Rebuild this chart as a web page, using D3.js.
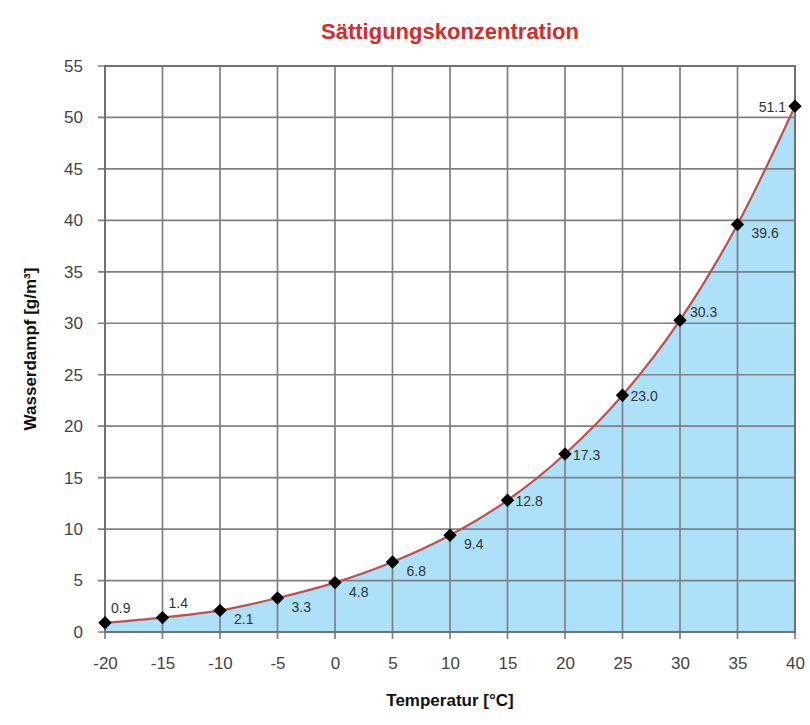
<!DOCTYPE html>
<html>
<head>
<meta charset="utf-8">
<script src="https://cdn.jsdelivr.net/npm/d3@7"></script>
<style>
  body { margin: 0; background: #fff; }
  text { font-family: "Liberation Sans", Arial, sans-serif; }
</style>
</head>
<body>
<svg id="chart" width="810" height="725"></svg>
<script>
// data
var temps = [-20, -15, -10, -5, 0, 5, 10, 15, 20, 25, 30, 35, 40];
var vapour = [0.9, 1.4, 2.1, 3.3, 4.8, 6.8, 9.4, 12.8, 17.3, 23.0, 30.3, 39.6, 51.1];
var xTicks = [-20, -15, -10, -5, 0, 5, 10, 15, 20, 25, 30, 35, 40];
var yTicks = [0, 5, 10, 15, 20, 25, 30, 35, 40, 45, 50, 55];
// where each value label sits relative to its point
var labelSide = ["ar", "ar", "br", "br", "br", "br", "br", "r", "r", "r", "ur", "br", "l"];

var svg = d3.select("#chart");
var m = { left: 105, right: 15, top: 66, bottom: 93 };
var w = 810 - m.left - m.right, h = 725 - m.top - m.bottom;

var x = d3.scaleLinear().domain([-20, 40]).range([0, w]);
var y = d3.scaleLinear().domain([0, 55]).range([h, 0]);

var g = svg.append("g").attr("transform", "translate(" + m.left + "," + m.top + ")");

var pts = temps.map(function (t, i) { return { t: t, v: vapour[i], side: labelSide[i] }; });

// filled area under curve
var area = d3.area()
    .x(function (d) { return x(d.t); })
    .y0(y(0))
    .y1(function (d) { return y(d.v); })
    .curve(d3.curveMonotoneX);
g.append("path").datum(pts).attr("d", area).attr("fill", "#ade0f9");

// grid
g.selectAll(".vg").data(xTicks).enter().append("line")
    .attr("x1", function (d) { return x(d); }).attr("x2", function (d) { return x(d); })
    .attr("y1", 0).attr("y2", h + 7)
    .attr("stroke", "#808080").attr("stroke-width", 1.7);
g.selectAll(".hg").data(yTicks).enter().append("line")
    .attr("y1", function (d) { return y(d); }).attr("y2", function (d) { return y(d); })
    .attr("x1", -7).attr("x2", w)
    .attr("stroke", "#808080").attr("stroke-width", 1.7);
g.append("rect").attr("width", w).attr("height", h)
    .attr("fill", "none").attr("stroke", "#707070").attr("stroke-width", 1.9);

// axes (labels only, grid drawn above)
var fmt = function (d) { return String(d); };
var xAxis = g.append("g").attr("transform", "translate(0," + h + ")")
    .call(d3.axisBottom(x).tickValues(xTicks).tickFormat(fmt).tickSize(0).tickPadding(25));
var yAxis = g.append("g")
    .call(d3.axisLeft(y).tickValues(yTicks).tickFormat(fmt).tickSize(0).tickPadding(22));
[xAxis, yAxis].forEach(function (a) {
    a.select(".domain").remove();
    a.selectAll("text").attr("font-size", 17).attr("fill", "#444")
        .attr("font-family", "Liberation Sans, Arial, sans-serif");
});

// curve
var line = d3.line()
    .x(function (d) { return x(d.t); })
    .y(function (d) { return y(d.v); })
    .curve(d3.curveMonotoneX);
g.append("path").datum(pts).attr("d", line)
    .attr("fill", "none").attr("stroke", "#c0504d").attr("stroke-width", 2.2);

// markers (square diamonds)
g.selectAll(".mk").data(pts).enter().append("path")
    .attr("transform", function (d) { return "translate(" + x(d.t) + "," + y(d.v) + ") rotate(45)"; })
    .attr("d", d3.symbol().type(d3.symbolSquare).size(90))
    .attr("fill", "#000");

// value labels
var off = { ar: [6, -10, "start"], br: [14, 14, "start"], r: [8, 6, "start"], ur: [10, -3, "start"], l: [-9, 6, "end"] };
g.selectAll(".vl").data(pts).enter().append("text")
    .attr("x", function (d) { return x(d.t) + off[d.side][0]; })
    .attr("y", function (d) { return y(d.v) + off[d.side][1]; })
    .attr("text-anchor", function (d) { return off[d.side][2]; })
    .attr("font-size", 14).attr("fill", "#333")
    .text(function (d) { return d.v.toFixed(1); });

// titles
svg.append("text").attr("x", 450).attr("y", 39).attr("text-anchor", "middle")
    .attr("font-size", 22).attr("font-weight", "bold").attr("fill", "#d42b2b")
    .text("Sättigungskonzentration");
svg.append("text").attr("x", 450).attr("y", 706).attr("text-anchor", "middle")
    .attr("font-size", 17).attr("font-weight", "bold").attr("fill", "#111")
    .text("Temperatur [°C]");
svg.append("text").attr("transform", "translate(36," + (m.top + h / 2) + ") rotate(-90)")
    .attr("text-anchor", "middle")
    .attr("font-size", 17).attr("font-weight", "bold").attr("fill", "#111")
    .text("Wasserdampf [g/m³]");
</script>
</body>
</html>
